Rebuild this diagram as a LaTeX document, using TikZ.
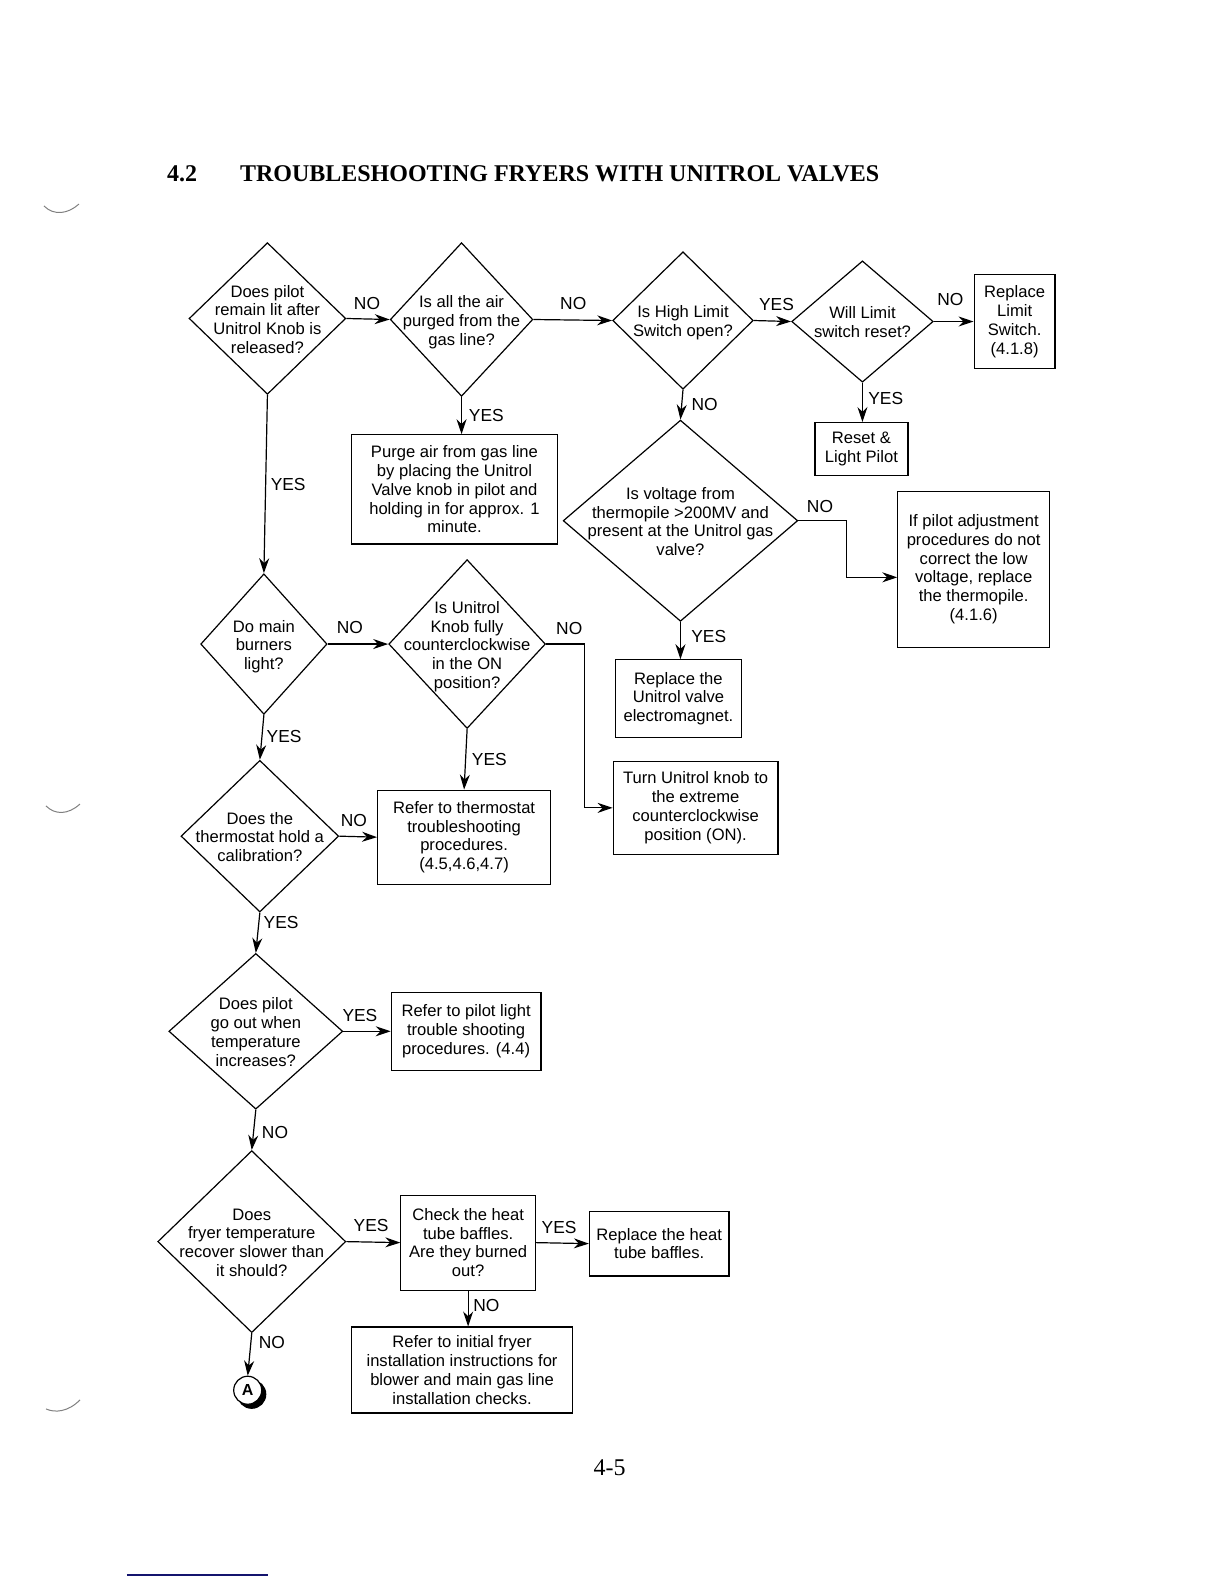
\documentclass[tikz,border=0pt]{standalone}
\usepackage{fontspec}
\setmainfont{Liberation Sans}
\newfontfamily\tnr{Liberation Serif}
\usetikzlibrary{shapes.geometric,arrows.meta,shadows}
\newcommand\dq[1]{\smash{\raisebox{-3.5pt}{\begin{tabular}{@{}c@{}}#1\end{tabular}}}}
\begin{document}
\begin{tikzpicture}[x=0.50556pt,y=-0.50556pt,
  dec/.style={draw, diamond, inner sep=0pt, line width=0.6pt, font=\fontsize{8.3}{9.4}\selectfont},
  sz/.style 2 args={minimum width=#1*0.50556pt, minimum height=#2*0.50556pt},
  act/.style={draw, rectangle, inner sep=1pt, align=center, line width=0.6pt, font=\fontsize{8.3}{9.4}\selectfont},
  lab/.style={font=\fontsize{8.7}{9}\selectfont, inner sep=0pt},
  arr/.style={line width=0.6pt, -{Stealth[length=7.5pt,width=5pt]}},
  punch/.style={line width=0.5pt, gray},
]
\useasboundingbox (0,0) rectangle (1210.65,1566.65);

% title
\node[anchor=west, font=\tnr\bfseries\fontsize{12}{14}\selectfont, inner sep=0pt] (tnum) at (165,172) {4.2};
\node[anchor=west, font=\tnr\bfseries\fontsize{12}{14}\selectfont, inner sep=0pt] (title) at (237,172) {TROUBLESHOOTING FRYERS WITH UNITROL VALVES};

% decisions
\node[dec, sz={155}{150}] (d1) at (264.5,315) {\dq{Does pilot\\remain lit after\\Unitrol Knob is\\released?}};
\node[dec, sz={141}{152}] (d2) at (456.5,316) {\dq{Is all the air\\purged from the\\gas line?}};
\node[dec, sz={139}{136}] (d3) at (675.5,317) {\dq{Is High Limit\\Switch open?}};
\node[dec, sz={140}{120}] (d4) at (853,318) {\dq{Will Limit\\switch reset?}};
\node[dec, sz={232}{199}] (d5) at (673,515) {\dq{Is voltage from\\thermopile >200MV and\\present at the Unitrol gas\\valve?}};
\node[dec, sz={125}{139}] (d6) at (261,637) {\dq{Do main\\burners\\light?}};
\node[dec, sz={155}{167}] (d7) at (462,637) {\dq{Is Unitrol\\Knob fully\\counterclockwise\\in the ON\\position?}};
\node[dec, sz={156}{150}] (d8) at (257,827) {\dq{Does the\\thermostat hold a\\calibration?}};
\node[dec, sz={172}{154}] (d9) at (253,1020) {\dq{Does pilot\\go out when\\temperature\\increases?}};
\node[dec, sz={186}{180}] (d10) at (249,1228) {\dq{Does\\fryer temperature\\recover slower than\\it should?}};

% actions
\node[act, sz={80}{93}] (replim) at (1003.5,318) {Replace\\Limit\\Switch.\\(4.1.8)};
\node[act, sz={92}{52}] (reset) at (852,444) {Reset \&\\Light Pilot};
\node[act, sz={203}{108}] (purge) at (449.5,484) {Purge air from gas line\\by placing the Unitrol\\Valve knob in pilot and\\holding in for approx. 1\\minute.};
\node[act, sz={150}{154}] (thermo) at (963,563) {If pilot adjustment\\procedures do not\\correct the low\\voltage, replace\\the thermopile.\\(4.1.6)};
\node[act, sz={124}{77}] (valve) at (671,691) {Replace the\\Unitrol valve\\electromagnet.};
\node[act, sz={163}{92}] (turn) at (688,799) {Turn Unitrol knob to\\the extreme\\counterclockwise\\position (ON).};
\node[act, sz={171}{93}] (rthermo) at (459,828) {Refer to thermostat\\troubleshooting\\procedures.\\(4.5,4.6,4.7)};
\node[act, sz={148}{77}] (rpilot) at (461,1020) {Refer to pilot light\\trouble shooting\\procedures. (4.4)};
\node[act, sz={133}{94}] (check) at (463,1229) {Check the heat\\tube baffles.\\Are they burned\\out?};
\node[act, sz={138}{64}] (rheat) at (652,1230) {Replace the heat\\tube baffles.};
\node[act, sz={219}{85}] (rinit) at (457,1355) {Refer to initial fryer\\installation instructions for\\blower and main gas line\\installation checks.};

% connector A
\node[circle, draw, fill=white, line width=0.6pt, minimum size=14pt, inner sep=0pt,
      font=\bfseries\fontsize{8}{9}\selectfont,
      copy shadow={shadow xshift=2pt, shadow yshift=-2pt, fill=black, draw=black}] (A) at (245,1375) {A};

% connectors
\draw[arr] (d1.east) -- (d2.west);
\draw[arr] (d2.east) -- (d3.west);
\draw[arr] (d3.east) -- (d4.west);
\draw[arr] (d4.east) -- (replim.west);
\draw[arr] (d4.south) -- (d4.south |- reset.north);
\draw[arr] (d2.south) -- (d2.south |- purge.north);
\draw[arr] (d3.south) -- (d5.north);
\draw[arr] (d5.east) -- ++(48,0) -- ++(0,56) -- (thermo.west |- {(0,571)});
\draw[arr] (d5.south) -- (d5.south |- valve.north);
\draw[arr] (d1.south) -- (d6.north);
\draw[arr] (d6.east) -- (d7.west);
\draw[arr] (d7.east) -- ++(38,0) |- (turn.west);
\draw[arr] (d7.south) -- (rthermo.north);
\draw[arr] (d6.south) -- (d8.north);
\draw[arr] (d8.east) -- (rthermo.west);
\draw[arr] (d8.south) -- (d9.north);
\draw[arr] (d9.east) -- (rpilot.west);
\draw[arr] (d9.south) -- (d10.north);
\draw[arr] (d10.east) -- (check.west);
\draw[arr] (check.east) -- (rheat.west);
\draw[arr] (check.south) -- (check.south |- rinit.north);
\draw[arr] (d10.south) -- (A.north);

% labels
\node[lab] (l1) at (363,300) {NO};
\node[lab] (l2) at (567,300) {NO};
\node[lab] (l3) at (768,301) {YES};
\node[lab] (l4) at (940,296) {NO};
\node[lab] (l5) at (876,394) {YES};
\node[lab] (l6) at (697,400) {NO};
\node[lab] (l7) at (481,411) {YES};
\node[lab] (l8) at (285,479) {YES};
\node[lab] (l9) at (811,501) {NO};
\node[lab] (l10) at (701,630) {YES};
\node[lab] (l11) at (346,621) {NO};
\node[lab] (l12) at (563,622) {NO};
\node[lab] (l13) at (484,751) {YES};
\node[lab] (l14) at (281,728) {YES};
\node[lab] (l15) at (350,812) {NO};
\node[lab] (l16) at (278,912) {YES};
\node[lab] (l17) at (356,1004) {YES};
\node[lab] (l18) at (272,1120) {NO};
\node[lab] (l19) at (367,1212) {YES};
\node[lab] (l20) at (553,1214) {YES};
\node[lab] (l21) at (481,1291) {NO};
\node[lab] (l22) at (269,1328) {NO};

% page number
\node[font=\tnr\fontsize{12}{14}\selectfont, inner sep=0pt] (page) at (603,1452) {4-5};

% scan marks
\draw[punch] (43.5,203.7) .. controls (53.4,213.6) and (67.3,211.6) .. (78.1,201.8);
\draw[punch] (45.5,797.1) .. controls (54.4,806) and (67.3,806) .. (79.1,795.2);
\draw[punch] (45.5,1393.5) .. controls (54.4,1397.5) and (67.3,1396.5) .. (79.1,1384.6);
\draw[line width=1pt, color={rgb,255:red,20;green,20;blue,110}] (125.6,1557.7) -- (265,1557.7);
\end{tikzpicture}
\end{document}
